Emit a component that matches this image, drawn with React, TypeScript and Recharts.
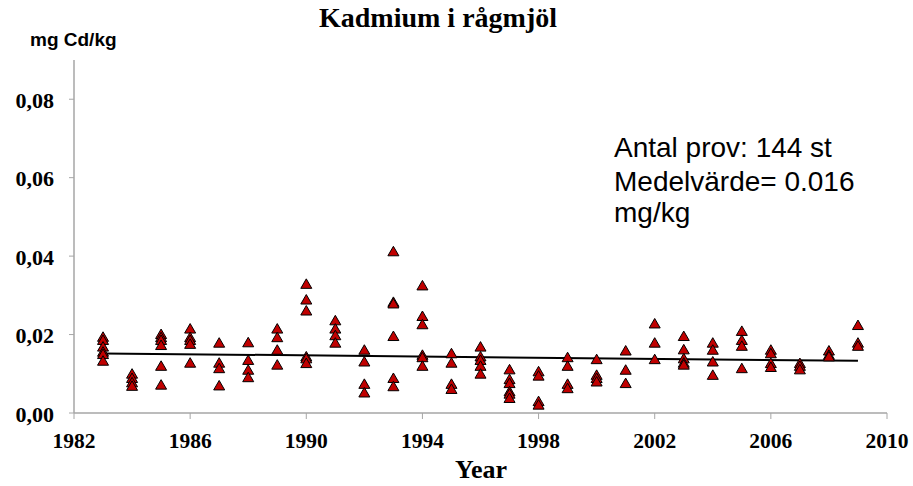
import React from "react";
import { ScatterChart, Scatter, XAxis, YAxis } from "recharts";

// Cd values (mg/kg) per sampling year
const years = [
  1983, 1984, 1985, 1986, 1987, 1988, 1989, 1990, 1991, 1992, 1993, 1994, 1995,
  1996, 1997, 1998, 1999, 2000, 2001, 2002, 2003, 2004, 2005, 2006, 2007, 2008, 2009,
];
const cadmium = [
  [0.0193, 0.0185, 0.0168, 0.0155, 0.0149, 0.0132],
  [0.0099, 0.0088, 0.0077, 0.0068],
  [0.02, 0.0192, 0.0185, 0.0172, 0.0119, 0.0071],
  [0.0214, 0.0192, 0.0185, 0.0175, 0.0127],
  [0.0178, 0.0127, 0.0113, 0.0069],
  [0.0179, 0.0134, 0.0109, 0.009],
  [0.0214, 0.0192, 0.016, 0.0122],
  [0.0328, 0.0288, 0.026, 0.0143, 0.0138, 0.0126],
  [0.0235, 0.0214, 0.0197, 0.0178],
  [0.016, 0.013, 0.0073, 0.0051],
  [0.0411, 0.0282, 0.0278, 0.0195, 0.0088, 0.0067],
  [0.0324, 0.0246, 0.0225, 0.0147, 0.0141, 0.0119],
  [0.0151, 0.0127, 0.0073, 0.006],
  [0.0168, 0.0143, 0.0134, 0.0119, 0.0099],
  [0.011, 0.0085, 0.0075, 0.0054, 0.0048, 0.0037],
  [0.0105, 0.0094, 0.0029, 0.002],
  [0.0141, 0.0119, 0.0073, 0.0062],
  [0.0136, 0.0096, 0.0088, 0.0079],
  [0.0158, 0.0109, 0.0075],
  [0.0227, 0.0178, 0.0136],
  [0.0195, 0.0161, 0.0138, 0.0127, 0.0122],
  [0.0178, 0.016, 0.013, 0.0096],
  [0.0208, 0.0185, 0.017, 0.0113],
  [0.016, 0.0151, 0.0126, 0.0116],
  [0.0126, 0.0119, 0.011],
  [0.0158, 0.0147, 0.0143],
  [0.0223, 0.0178, 0.017],
];
const trendYears = [1983, 2009];
const trendValues = [0.0152, 0.0133];

const xTicks = [1982, 1986, 1990, 1994, 1998, 2002, 2006, 2010];
const yTicks = [0, 0.02, 0.04, 0.06, 0.08];

const points = years.flatMap((yr, i) => cadmium[i].map((v) => ({ x: yr, y: v })));
const trend = trendYears.map((yr, i) => ({ x: yr, y: trendValues[i] }));

const AXIS = "#a6a6a6";
const serif = "'Liberation Serif', 'Times New Roman', serif";
const sans = "'Liberation Sans', Arial, sans-serif";

const Triangle = (props: any) => {
  const { cx, cy } = props;
  if (cx == null || cy == null) return null;
  return (
    <polygon
      points={`${cx},${cy - 5.5} ${cx - 5.5},${cy + 4} ${cx + 5.5},${cy + 4}`}
      fill="#c00000"
      stroke="#000"
      strokeWidth={1}
    />
  );
};

const XTick = (props: any) => {
  const { x, payload } = props;
  return (
    <text x={x} y={448} textAnchor="middle" fontFamily={serif} fontWeight="bold" fontSize={21.5} fill="#000">
      {payload.value}
    </text>
  );
};

const YTick = (props: any) => {
  const { y, payload } = props;
  return (
    <text x={54} y={y + 8.5} textAnchor="end" fontFamily={serif} fontWeight="bold" fontSize={22} fill="#000">
      {payload.value.toFixed(2).replace(".", ",")}
    </text>
  );
};

export default function App() {
  return (
    <div style={{ position: "absolute", left: 0, top: 0, width: 913, height: 486, background: "#fff" }}>
      <ScatterChart width={913} height={486} margin={{ top: 60, right: 26, bottom: 33, left: 0 }}>
        <XAxis
          type="number"
          dataKey="x"
          domain={[1982, 2010]}
          ticks={xTicks}
          height={40}
          axisLine={{ stroke: AXIS, strokeWidth: 1.5 }}
          tickLine={{ stroke: AXIS }}
          tickSize={6}
          tick={<XTick />}
        />
        <YAxis
          type="number"
          dataKey="y"
          domain={[0, 0.09]}
          ticks={yTicks}
          width={74}
          axisLine={{ stroke: AXIS, strokeWidth: 1.5 }}
          tickLine={{ stroke: AXIS }}
          tickSize={5}
          tick={<YTick />}
        />
        <Scatter
          data={trend}
          line={{ stroke: "#000", strokeWidth: 2 }}
          shape={() => null}
          isAnimationActive={false}
        />
        <Scatter data={points} shape={<Triangle />} isAnimationActive={false} />
      </ScatterChart>
      <svg
        width={913}
        height={486}
        style={{ position: "absolute", left: 0, top: 0, pointerEvents: "none" }}
      >
        <text x={438} y={27} textAnchor="middle" fontFamily={serif} fontWeight="bold" fontSize={28}>
          Kadmium i rågmjöl
        </text>
        <text x={30} y={46} fontFamily={sans} fontWeight="bold" fontSize={19}>
          mg Cd/kg
        </text>
        <text x={481} y={478} textAnchor="middle" fontFamily={serif} fontWeight="bold" fontSize={26}>
          Year
        </text>
        <text fontFamily={sans} fontSize={28} fill="#000">
          <tspan x={614} y={157}>Antal prov: 144 st</tspan>
          <tspan x={614} y={191}>Medelvärde= 0.016</tspan>
          <tspan x={614} y={222}>mg/kg</tspan>
        </text>
      </svg>
    </div>
  );
}
